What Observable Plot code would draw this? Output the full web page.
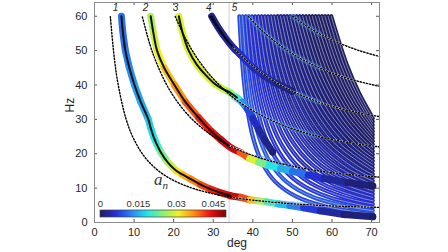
<!DOCTYPE html>
<html><head><meta charset="utf-8">
<script src="https://cdn.jsdelivr.net/npm/d3@7"></script>
<script src="https://cdn.jsdelivr.net/npm/@observablehq/plot@0.6"></script>
<style>
body{margin:0;background:#fff;}
#wrap{position:relative;width:448px;height:252px;overflow:hidden;}
#an{position:absolute;left:154px;top:171px;line-height:18px;font-family:"Liberation Serif","DejaVu Serif",serif;font-style:italic;font-size:17px;color:#333;}
#an sub{font-size:11px;}
</style></head><body><div id="wrap"><div id="an">a<sub>n</sub></div></div>
<script>
// ---- data ----
const xTicks = [0,10,20,30,40,50,60,70];
const yTicks = [0,10,20,30,40,50,60];
const cbTicks = [0,0.015,0.03,0.045];
const criticalDeg = [34];
const modeLabels = ["1","2","3","4","5"];
const modeLabelDeg = [5.3,12.9,20.5,28.9,35.4];
const modeLabelHz = [62.4,62.4,62.4,62.4,62.4];

// mode curves: [deg, Hz, a_n]
const mode1 = [[6.8,60,.011],[7.2,55,.011],[7.8,50,.012],[8.8,45,.013],[10.1,40,.014],[11.7,35,.015],[13.6,30,.017],[14.2,27.5,.018],[14.9,25,.019],[15.8,22.6,.021],[16.7,20.5,.024],[18.5,17.5,.028],[20.5,15.2,.032],[22.3,13.9,.035],[24.2,12.7,.038],[26.8,11,.041],[29.3,9.7,.043],[31.5,8.8,.045],[34.3,7.8,.046],[37,7.3,.041],[39.3,6.6,.034],[41.3,6.3,.027],[43.5,6.0,.021],[46.5,5.4,.016],[49.4,4.9,.012],[52.8,4.3,.007],[57,3.4,.003],[63,2.3,.001],[70.3,1.7,0]];
const mode2 = [[14.2,60,.027],[14.9,55,.029],[15.8,50,.031],[17.6,45,.034],[20.2,40,.037],[23.0,35,.040],[26.3,30.5,.043],[29.5,26.5,.045],[32,24,.046],[34.3,21.9,.046],[36.8,20.4,.040],[39.2,18.6,.030],[41.5,17.5,.024],[44,16.6,.019],[47,15.7,.015],[50,14.9,.011],[54,13.8,.006],[58,12.8,.003],[64,11.6,.001],[70.3,10.6,0]];
const mode3 = [[21.3,60,.030],[22.3,55,.030],[23.8,50,.030],[25.8,46,.030],[28.0,43,.030],[30.5,40.2,.029],[32.5,38.8,.028],[34.1,37.9,.025],[36,36.3,.020],[37.3,35,.013],[38.6,33,.008],[40,30.3,.005],[41.5,27,.003],[43,24,.002],[45,20.5,.001]];
const mode4 = [[29.6,60,.002],[31,57.2,.002],[32.5,54.6,.003],[34,52.3,.003],[35.5,50.3,.004],[36.8,48.9,.005],[38.5,46.8,.005],[40.5,44.6,.004],[43,42.5,.003],[46,40.4,.002],[50,38.2,.001]];
const innerEnd = [34.3,34.3,36,36.8];

// dotted curves: [deg, Hz]
const dotted1 = [[4,59.9],[5,47.9],[6,40],[8,30],[10,24.1],[13,18.6],[17,14.3],[22,11.16],[28,8.9],[35,7.29],[45,5.91],[55,5.1],[65,4.61],[72,4.39]];
const dotted2 = [[12.1,59.8],[14,51.8],[16,45.5],[19,38.5],[23,32.1],[28,26.7],[34,22.4],[41,19.1],[50,16.4],[60,14.5],[72,13.2]];
const dotted3 = [[20.4,59.95],[23,53.5],[26,47.7],[30,41.8],[35,36.4],[41,31.9],[48,28.1],[56,25.2],[64,23.3],[72,22.0]];
const dotted4 = [[29.2,59.97],[32,55.2],[35,51.0],[39,46.5],[44,42.1],[50,38.2],[57,34.9],[64,32.6],[72,30.8]];
const dotted5 = [[38.9,59.9],[42,56.2],[46,52.3],[51,48.4],[57,44.9],[64,41.9],[72,39.6]];
const dotted6 = [[50.05,60],[53,57.6],[57,54.8],[62,52.1],[67,49.95],[72,48.3]];

// higher-order family: [deg, Hz]
const family = [
[[36.6,60],[37.38,45.71],[38.42,34.5],[39.98,24.99],[42.32,17.42],[45.7,11.82],[50.9,7.59],[58.7,4.58],[70.3,2.5]],
[[37.4,60],[38.36,45.68],[39.64,34.45],[41.56,24.93],[44.44,17.35],[48.6,11.75],[55,7.5],[64.6,4.49],[70.3,3.46]],
[[38.2,60],[39.34,45.66],[40.86,34.4],[43.14,24.87],[46.56,17.27],[51.5,11.65],[59.1,7.4],[70.3,4.42]],
[[39,60],[40.32,45.62],[42.08,34.35],[44.72,24.79],[48.68,17.17],[54.4,11.54],[63.2,7.28],[70.3,5.38]],
[[39.8,60],[41.3,45.59],[43.3,34.28],[46.3,24.7],[50.8,17.06],[57.3,11.42],[67.3,7.15],[70.3,6.34]],
[[40.6,60],[42.28,45.54],[44.52,34.21],[47.88,24.59],[52.92,16.94],[60.2,11.28],[70.3,7.3]],
[[41.4,60],[43.26,45.5],[45.74,34.12],[49.46,24.48],[55.04,16.8],[63.1,11.12],[70.3,8.26]],
[[42.2,60],[44.24,45.45],[46.96,34.03],[51.04,24.35],[57.16,16.64],[66,10.95],[70.3,9.22]],
[[43,60],[45.22,45.39],[48.18,33.92],[52.62,24.2],[59.28,16.46],[70.3,10.18]],
[[43.8,60],[46.2,45.32],[49.4,33.81],[54.2,24.05],[61.4,16.27],[70.3,11.14]],
[[44.6,60],[47.18,45.25],[50.62,33.68],[55.78,23.87],[63.52,16.05],[70.3,12.1]],
[[45.4,60],[48.16,45.17],[51.84,33.53],[57.36,23.67],[65.64,15.81],[70.3,13.06]],
[[46.2,60],[49.14,45.07],[53.06,33.37],[58.94,23.44],[67.76,15.53],[70.3,14.02]],
[[47,60],[50.12,44.97],[54.28,33.19],[60.52,23.19],[70.3,14.98]],
[[47.8,60],[51.1,44.86],[55.5,32.99],[62.1,22.92],[70.3,15.94]],
[[48.6,60],[52.08,44.74],[56.72,32.77],[63.68,22.62],[70.3,16.9]],
[[49.4,60],[53.06,44.6],[57.94,32.52],[65.26,22.28],[70.3,17.86]],
[[50.2,60],[54.04,44.44],[59.16,32.24],[66.84,21.9],[70.3,18.82]],
[[51,60],[55.02,44.27],[60.38,31.94],[65.74,24.3],[70.3,19.78]],
[[51.8,60],[56,44.08],[61.6,31.6],[65.8,25.51],[70.3,20.74]],
[[52.6,60],[56.98,43.87],[62.82,31.22],[67.2,25.05],[70.3,21.7]],
[[53.4,60],[57.96,43.63],[64.04,30.8],[70.3,22.66]],
[[54.2,60],[58.94,43.37],[64.47,31.6],[70.3,23.62]],
[[55,60],[59.1,45.32],[64.84,32.48],[70.3,24.58]],
[[55.8,60],[60.05,45.03],[65.15,33.44],[70.3,25.54]],
[[56.6,60],[61,44.69],[65.4,34.48],[70.3,26.5]],
[[57.4,60],[61.04,46.93],[65.59,35.66],[70.3,27.46]],
[[58.2,60],[61.96,46.56],[65.72,36.97],[70.3,28.42]],
[[59,60],[62.88,46.13],[66.76,36.22],[70.3,29.38]],
[[59.8,60],[63.8,45.64],[66.8,37.66],[70.3,30.34]]
];
const familyA = [.008,.009,.007,.006,.006,.005,.005,.004,.004,.003,.003,.003,.002,.002,.002,.0015,.0015,.001,.001,.001,.0005,.0005,0,0,0,0,0,0,0,0];

// ---- build tables ----
const jet = ["#1e1e64","#2430d8","#2a86f2","#20e6e6","#8cf078","#f2f020","#ff8a10","#f01010","#7f0000"];
const modeRows = [mode1,mode2,mode3,mode4].flatMap((c,k)=>c.map(([x,y,a])=>({id:k,x,y,a})));
const innerRows = modeRows.filter(d=>d.x <= innerEnd[d.id]+0.01);
const dotRows = [dotted1,dotted2,dotted3,dotted4,dotted5,dotted6].flatMap((c,k)=>c.map(([x,y])=>({id:k,x,y})));
const famRows = family.flatMap((c,i)=>c.map(([x,y])=>({id:i,x,y,a:familyA[i]})));

const W=448,H=252,ML=94,MR=69,MT=2,MB=30;
const fw=W-ML-MR, fh=H-MT-MB;
const plot = Plot.plot({
  width:W,height:H,marginLeft:ML,marginRight:MR,marginTop:MT,marginBottom:MB,
  style:{fontFamily:"'Liberation Sans', Arial, sans-serif",fontSize:"10.5px",color:"#262626",background:"white"},
  x:{domain:[0,72]}, y:{domain:[0,64]},
  color:{type:"linear",domain:[0,0.05],interpolate:d3.piecewise(d3.interpolateRgb,jet),label:null},
  marks:[
    Plot.ruleX(criticalDeg,{x:d=>d,stroke:"#cfcfcf",strokeWidth:1}),
    Plot.line(famRows,{x:"x",y:"y",z:"id",stroke:"a",strokeWidth:4.2,strokeLinecap:"round",curve:"catmull-rom"}),
    Plot.line(famRows,{x:"x",y:"y",z:"id",stroke:"#b4b4d2",strokeWidth:0.7,curve:"catmull-rom"}),
    Plot.line(dotRows,{filter:d=>d.x>=35&&d.x<=58,x:"x",y:"y",z:"id",stroke:"#3d9bff",strokeWidth:5,strokeOpacity:0.4,curve:"catmull-rom"}),
    Plot.line(modeRows,{x:"x",y:"y",z:"id",stroke:"a",strokeWidth:7,strokeLinecap:"round",strokeLinejoin:"round",curve:"catmull-rom"}),
    Plot.line(innerRows,{x:"x",y:"y",z:"id",stroke:"#111",strokeWidth:2,curve:"catmull-rom"}),
    Plot.line(dotRows,{filter:d=>d.x>=33,x:"x",y:"y",z:"id",stroke:"white",strokeWidth:1.4,curve:"catmull-rom"}),
    Plot.line(dotRows,{x:"x",y:"y",z:"id",stroke:"black",strokeWidth:1.4,strokeDasharray:"1.4,1.8",curve:"catmull-rom"}),
    Plot.tickX(xTicks,{x:d=>d,insetTop:fh-3,stroke:"#555"}),
    Plot.tickX(xTicks,{x:d=>d,insetBottom:fh-3,stroke:"#555"}),
    Plot.tickY(yTicks,{y:d=>d,insetRight:fw-3,stroke:"#555"}),
    Plot.tickY(yTicks,{y:d=>d,insetLeft:fw-3,stroke:"#555"}),
    Plot.axisX({ticks:xTicks,tickSize:0,tickPadding:6,label:null,fontSize:11}),
    Plot.axisY({ticks:yTicks,tickSize:0,tickPadding:7,label:null,fontSize:11}),
    Plot.frame({stroke:"#8c8c8c"}),
    Plot.text(["deg"],{text:d=>d,frameAnchor:"bottom",dy:24,fontSize:12}),
    Plot.text(["Hz"],{text:d=>d,frameAnchor:"left",dx:-24,rotate:-90,fontSize:12}),
    Plot.text(modeLabels,{text:d=>d,x:(d,i)=>modeLabelDeg[i],y:(d,i)=>modeLabelHz[i],fontStyle:"italic",fontSize:10})
  ]
});
const wrap = document.getElementById("wrap");
plot.style.position="absolute"; plot.style.left="0px"; plot.style.top="0px";
wrap.insertBefore(plot, wrap.firstChild);

// colorbar from the plot's own color scale
const cb = plot.legend("color",{width:156,marginLeft:15,marginRight:15,height:30,marginTop:18,marginBottom:5,ticks:cbTicks,tickFormat:d=>String(d),tickSize:0,label:null});
cb.style.position="absolute"; cb.style.left="85px"; cb.style.top="191.5px";
cb.style.background="transparent"; cb.style.overflow="visible";
cb.style.font="9.5px 'Liberation Sans', Arial, sans-serif"; cb.style.color="#333";
const axisG = Array.from(cb.querySelectorAll("g")).find(g=>g.querySelector(".tick"));
if (axisG) {
  axisG.setAttribute("transform","translate(0,18)");
  axisG.querySelectorAll(".tick text").forEach(t=>{t.setAttribute("y","-3");t.setAttribute("dy","0");});
  axisG.querySelectorAll(".tick line").forEach(l=>l.remove());
}
const img = cb.querySelector("image");
if (img) {
  const r = document.createElementNS("http://www.w3.org/2000/svg","rect");
  ["x","y","width","height"].forEach(k=>r.setAttribute(k,img.getAttribute(k)));
  r.setAttribute("fill","none"); r.setAttribute("stroke","#444"); r.setAttribute("stroke-width","0.7");
  cb.appendChild(r);
}
wrap.appendChild(cb);
</script></body></html>
